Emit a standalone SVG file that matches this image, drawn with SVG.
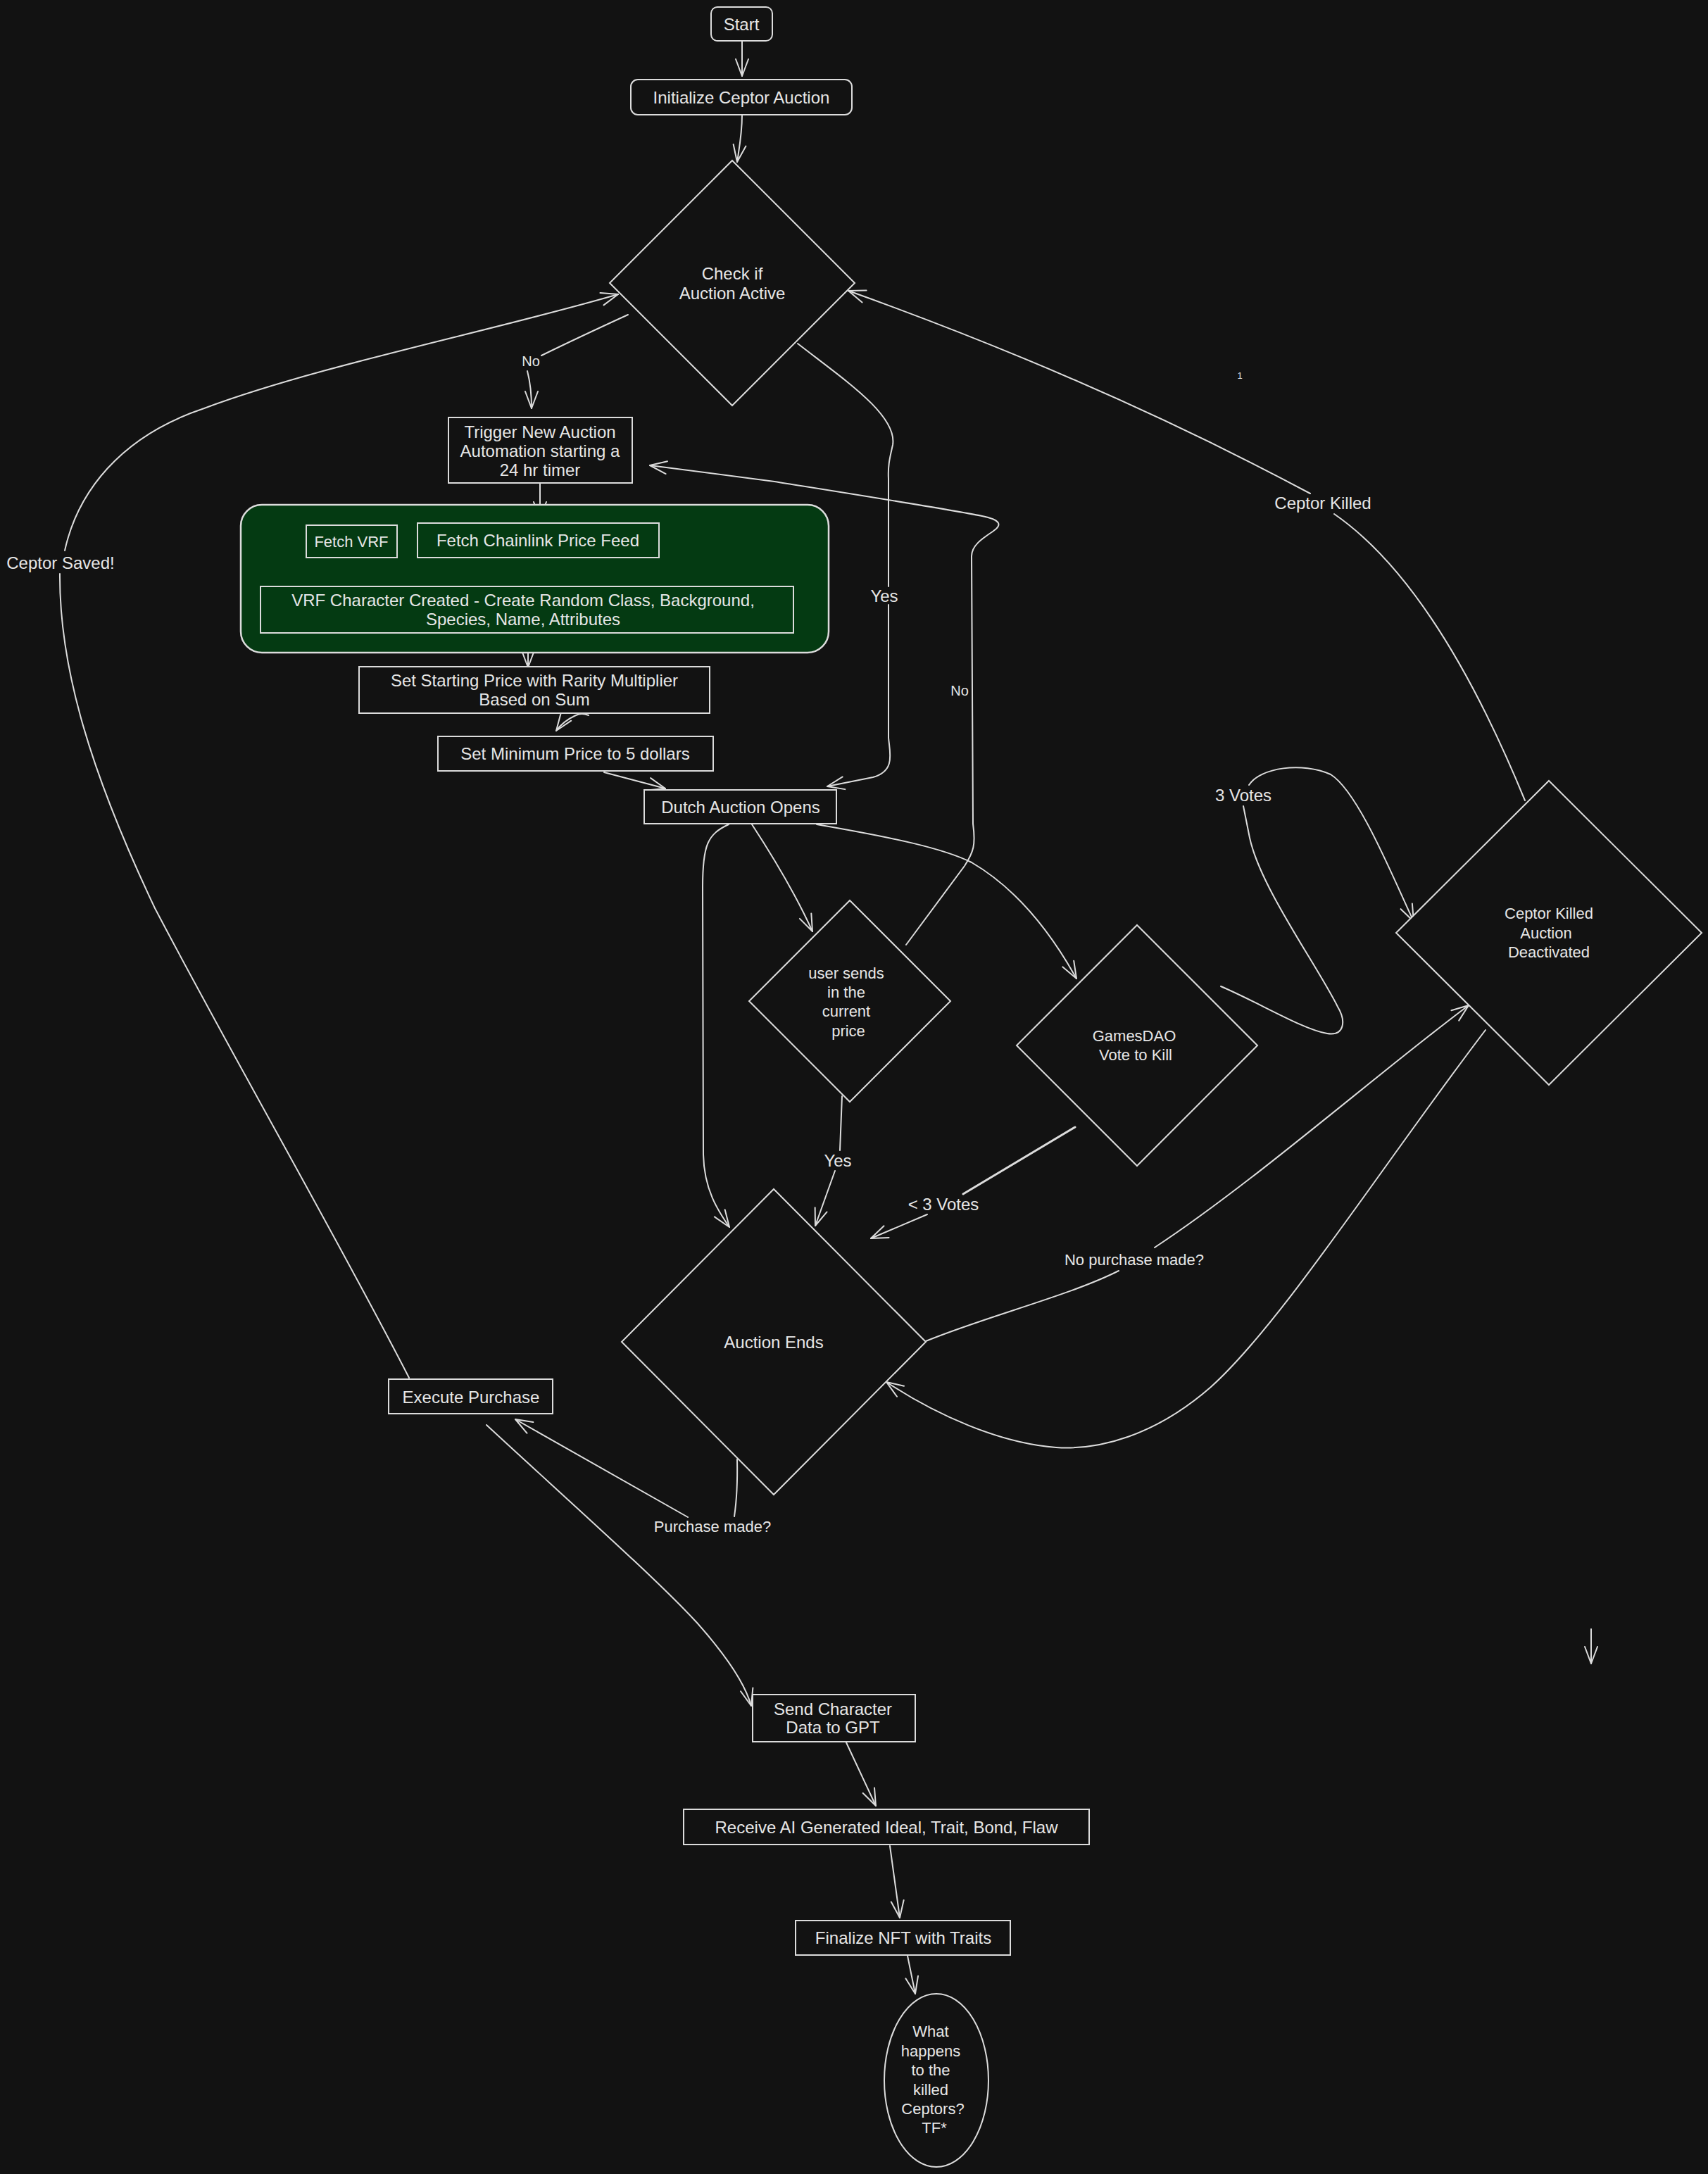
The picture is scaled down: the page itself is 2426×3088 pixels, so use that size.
<svg xmlns="http://www.w3.org/2000/svg" width="2426" height="3088" viewBox="0 0 2426 3088">
<defs>
<style>
.bg{fill:#121212}
.n{fill:#121212;stroke:#dcdcdc;stroke-width:2}
.g{fill:#043a12;stroke:#dcdcdc;stroke-width:2.5}
.ng{fill:#043a12;stroke:#dcdcdc;stroke-width:2}
.c{fill:none;stroke:#dcdcdc;stroke-width:2;stroke-linecap:round;stroke-linejoin:round}
.ca{fill:none;stroke:#dcdcdc;stroke-width:2;stroke-linecap:round;stroke-linejoin:round;marker-end:url(#ah)}
.t{font-family:"Liberation Sans",Arial,sans-serif;font-size:24px;fill:#e6e6e6;text-anchor:middle;dominant-baseline:central}
.s{font-size:22px}
.xs{font-size:20px}
</style>
<marker id="ah" markerUnits="userSpaceOnUse" viewBox="-30 -15 35 30" refX="0" refY="0" markerWidth="35" markerHeight="30" orient="auto" overflow="visible">
<path d="M-24,-9 L0,0 L-24,9" fill="none" stroke="#dcdcdc" stroke-width="2" stroke-linecap="round" stroke-linejoin="round"/>
</marker>
</defs>
<rect class="bg" x="0" y="0" width="2426" height="3088"/>

<g id="connectors">
<path id="e-start-init" class="ca" d="M1054,58 L1054,108"/>
<path id="e-init-check" class="ca" d="M1054,163 C1054,190 1050,210 1047,230"/>
<path class="c" d="M892,447 Q820,480 769,505"/>
<path id="e-check-trigger" class="ca" d="M749,527 Q755,550 755,580"/>
<path class="c" d="M1133,488 C1200,540 1275,590 1268,632 C1264,650 1261,660 1262,680 L1262,833"/>
<path id="e-check-dutch" class="ca" d="M1262,859 L1262,1048 C1264,1070 1272,1095 1240,1104 L1175,1117"/>
<path id="e-trigger-green" class="ca" d="M767,686 L767,737"/>
<path id="e-chainlink-vrf" class="c" d="M749,796 Q760,812 764,826"/>
<path id="e-vrf-starting" class="ca" d="M750,899 L750,948"/>
<path id="e-starting-min" class="ca" d="M836,1016 Q826,1012 818,1016 Q800,1024 790,1038"/>
<path id="e-min-dutch" class="ca" d="M858,1097 L945,1120"/>
<path id="e-dutch-ends" class="ca" d="M1035,1171 C1005,1185 998,1200 998,1260 L999,1640 C1000,1690 1020,1720 1036,1743"/>
<path id="e-dutch-user" class="ca" d="M1068,1171 C1100,1220 1130,1270 1154,1323"/>
<path id="e-dutch-games" class="ca" d="M1160,1171 C1270,1190 1340,1205 1380,1225 C1440,1260 1490,1320 1529,1390"/>
<path id="e-user-trigger" class="ca" d="M1287,1342 L1370,1230 C1383,1210 1386,1200 1382,1170 L1380,790 C1380,775 1395,765 1410,755 C1425,745 1420,738 1395,733 C1340,722 1200,700 1100,684 L923,661"/>
<path class="c" d="M1196,1557 L1193,1634"/>
<path id="e-user-ends" class="ca" d="M1186,1663 L1158,1741"/>
<path class="c" d="M1527,1601 L1368,1696" style="stroke-width:3"/>
<path id="e-games-ends" class="ca" d="M1317,1725 L1237,1759"/>
<path class="c" d="M1734,1401 C1790,1425 1850,1462 1885,1468 C1910,1472 1912,1450 1900,1430 C1870,1370 1790,1260 1775,1190 L1766,1145"/>
<path id="e-games-killed" class="ca" d="M1774,1115 C1790,1090 1850,1082 1890,1100 C1930,1125 1980,1250 2008,1309"/>
<path class="c" d="M2166,1137 Q2040,830 1895,730"/>
<path id="e-killed-check" class="ca" d="M1861,701 Q1560,540 1205,413"/>
<path class="c" d="M1315,1905 C1400,1870 1520,1840 1589,1805"/>
<path id="e-ends-killed" class="ca" d="M1640,1772 C1780,1680 1950,1530 2086,1428"/>
<path id="e-killed-ends" class="ca" d="M2110,1463 C1960,1660 1820,1880 1720,1970 C1640,2040 1560,2060 1500,2056 C1420,2050 1330,2010 1259,1963"/>
<path class="c" d="M1047,2073 Q1048,2120 1043,2154"/>
<path id="e-ends-execute" class="ca" d="M977,2155 L732,2016"/>
<path id="e-execute-send" class="ca" d="M691,2024 C800,2125 930,2240 990,2305 C1030,2350 1058,2390 1067,2423"/>
<path class="c" d="M581,1957 C480,1760 330,1500 220,1290 C130,1100 84,950 85,815"/>
<path id="e-execute-check" class="ca" d="M92,782 C110,700 170,620 290,580 C450,520 700,470 878,418"/>
<path id="e-send-receive" class="ca" d="M1201,2473 L1244,2565"/>
<path id="e-receive-final" class="ca" d="M1264,2622 L1278,2724"/>
<path id="e-final-ellipse" class="ca" d="M1289,2778 L1300,2832"/>
<path id="e-stray" class="ca" d="M2260,2314 L2260,2363"/>
<text class="t xs" x="754" y="513">No</text>
<text class="t" x="1256" y="846">Yes</text>
<text class="t xs" x="1363" y="981">No</text>
<text class="t" x="1190" y="1648">Yes</text>
<text class="t" x="1340" y="1710">&lt; 3 Votes</text>
<text class="t" x="1766" y="1129">3 Votes</text>
<text class="t" x="1879" y="714">Ceptor Killed</text>
<text class="t s" x="1611" y="1789">No purchase made?</text>
<text class="t s" x="1012" y="2168">Purchase made?</text>
<text class="t" x="86" y="799">Ceptor Saved!</text>
<text class="t" x="1761" y="533" style="font-size:13px">1</text>
</g>

<g id="start">
<rect class="n" x="1010" y="10" width="87" height="48" rx="9"/>
<text class="t" x="1053" y="34">Start</text>
</g>
<g id="init">
<rect class="n" x="896" y="113" width="314" height="50" rx="10"/>
<text class="t" x="1053" y="138">Initialize Ceptor Auction</text>
</g>
<g id="check">
<polygon class="n" points="1040,228 1214,402 1040,576 866,402"/>
<text class="t" x="1040" y="388">Check if</text>
<text class="t" x="1040" y="416">Auction Active</text>
</g>
<g id="trigger">
<rect class="n" x="637" y="593" width="261" height="93"/>
<text class="t" x="767" y="613">Trigger New Auction</text>
<text class="t" x="767" y="640">Automation starting a</text>
<text class="t" x="767" y="667">24 hr timer</text>
</g>
<g id="chainlink-group">
<rect class="g" x="342" y="717" width="835" height="210" rx="30"/>
</g>
<g id="fetch-vrf">
<rect class="ng" x="435" y="746" width="129" height="46"/>
<text class="t s" x="499" y="769">Fetch VRF</text>
</g>
<g id="fetch-chainlink">
<rect class="ng" x="593" y="743" width="343" height="49"/>
<text class="t" x="764" y="767">Fetch Chainlink Price Feed</text>
</g>
<g id="vrf-character">
<rect class="ng" x="370" y="833" width="757" height="66"/>
<text class="t" x="743" y="852">VRF Character Created - Create Random Class, Background,</text>
<text class="t" x="743" y="879">Species, Name, Attributes</text>
</g>
<g id="starting-price">
<rect class="n" x="510" y="947" width="498" height="66"/>
<text class="t" x="759" y="966">Set Starting Price with Rarity Multiplier</text>
<text class="t" x="759" y="993">Based on Sum</text>
</g>
<g id="min-price">
<rect class="n" x="622" y="1046" width="391" height="49"/>
<text class="t" x="817" y="1070">Set Minimum Price to 5 dollars</text>
</g>
<g id="dutch">
<rect class="n" x="915" y="1122" width="273" height="48"/>
<text class="t" x="1052" y="1146">Dutch Auction Opens</text>
</g>
<g id="user-sends">
<polygon class="n" points="1207,1279 1350,1422 1207,1565 1064,1422"/>
<text class="t s" x="1202" y="1382">user sends</text>
<text class="t s" x="1202" y="1409">in the</text>
<text class="t s" x="1202" y="1436">current</text>
<text class="t s" x="1205" y="1464">price</text>
</g>
<g id="gamesdao">
<polygon class="n" points="1615,1314 1786,1485 1615,1656 1444,1485"/>
<text class="t s" x="1611" y="1471">GamesDAO</text>
<text class="t s" x="1613" y="1498">Vote to Kill</text>
</g>
<g id="ceptor-killed">
<polygon class="n" points="2200,1109 2417,1325 2200,1541 1983,1325"/>
<text class="t s" x="2200" y="1297">Ceptor Killed</text>
<text class="t s" x="2196" y="1325">Auction</text>
<text class="t s" x="2200" y="1352">Deactivated</text>
</g>
<g id="auction-ends">
<polygon class="n" points="1099,1689 1315,1906 1099,2123 883,1906"/>
<text class="t" x="1099" y="1906">Auction Ends</text>
</g>
<g id="execute">
<rect class="n" x="552" y="1959" width="233" height="49"/>
<text class="t" x="669" y="1984">Execute Purchase</text>
</g>
<g id="send-gpt">
<rect class="n" x="1069" y="2407" width="231" height="67"/>
<text class="t" x="1183" y="2427">Send Character</text>
<text class="t" x="1183" y="2453">Data to GPT</text>
</g>
<g id="receive">
<rect class="n" x="971" y="2570" width="576" height="50"/>
<text class="t" x="1259" y="2595">Receive AI Generated Ideal, Trait, Bond, Flaw</text>
</g>
<g id="finalize">
<rect class="n" x="1130" y="2728" width="305" height="49"/>
<text class="t" x="1283" y="2752">Finalize NFT with Traits</text>
</g>
<g id="killed-question">
<ellipse class="n" cx="1330" cy="2955" rx="74" ry="123"/>
<text class="t s" x="1322" y="2885">What</text>
<text class="t s" x="1322" y="2913">happens</text>
<text class="t s" x="1322" y="2940">to the</text>
<text class="t s" x="1322" y="2968">killed</text>
<text class="t s" x="1325" y="2995">Ceptors?</text>
<text class="t s" x="1327" y="3022">TF*</text>
</g>
</svg>
